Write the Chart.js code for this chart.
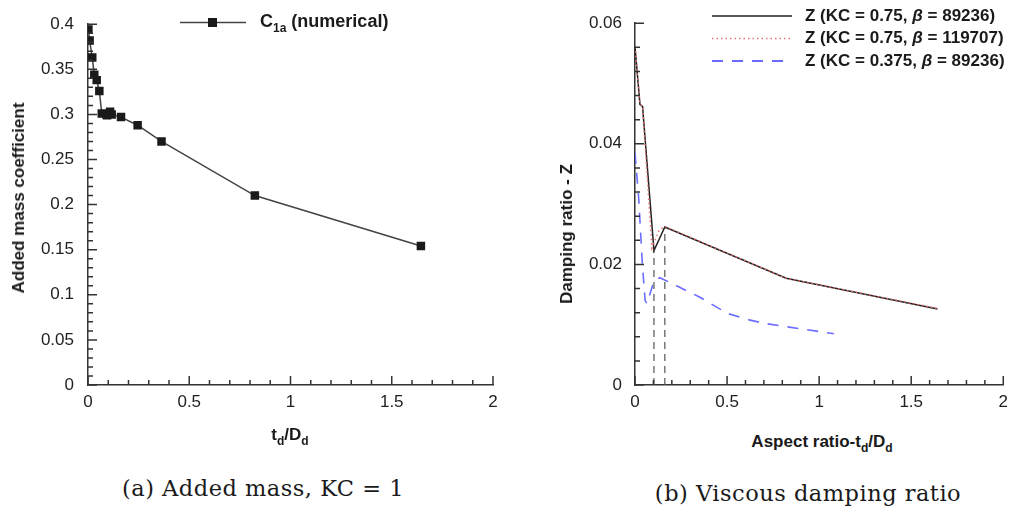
<!DOCTYPE html>
<html>
<head>
<meta charset="utf-8">
<script src="https://cdn.jsdelivr.net/npm/chart.js"></script>
<style>
  body { margin: 0; background: #fff; }
  #page { position: relative; width: 1015px; height: 511px; overflow: hidden; font-family: "Liberation Sans", Arial, sans-serif; color: #1a1a1a; }
  canvas { position: absolute; top: 0; }
  .ytitle { position: absolute; font-weight: bold; font-size: 17px; white-space: nowrap; transform: translate(-50%, -50%) rotate(-90deg); }
  .xtitle { position: absolute; font-weight: bold; font-size: 17px; white-space: nowrap; transform: translate(-50%, -50%); }
  .xtitle sub, .leg sub { font-size: 12px; vertical-align: -5px; }
  .caption { position: absolute; font-family: "DejaVu Serif", "Liberation Serif", serif; font-size: 22.5px; letter-spacing: 0.5px; white-space: nowrap; transform: translate(-50%, -50%); }
  .leg { position: absolute; font-weight: bold; font-size: 17px; white-space: nowrap; line-height: 20px; }
  svg.sample { position: absolute; overflow: visible; }
</style>
</head>
<body>
<div id="page">
  <canvas id="massChart" width="520" height="430" style="left:0"></canvas>
  <canvas id="dampChart" width="475" height="430" style="left:540px"></canvas>

  <div class="ytitle" style="left:19px; top:198px">Added mass coefficient</div>
  <div class="xtitle" style="left:290px; top:436px">t<sub>d</sub>/D<sub>d</sub></div>
  <div class="ytitle" style="left:567px; top:234px">Damping ratio - Z</div>
  <div class="xtitle" style="left:822px; top:443px">Aspect ratio-t<sub>d</sub>/D<sub>d</sub></div>

  <!-- legend, left panel -->
  <svg class="sample" style="left:180px; top:12px" width="66" height="20">
    <line x1="0" y1="10.5" x2="66" y2="10.5" stroke="#444" stroke-width="1.5"/>
    <rect x="28" y="6" width="9" height="9" fill="#1a1a1a"/>
  </svg>
  <div class="leg" style="left:260px; top:11px; font-size:18px">C<sub>1a</sub> (numerical)</div>

  <!-- legend, right panel -->
  <svg class="sample" style="left:712px; top:6px" width="80" height="60">
    <line x1="0" y1="10" x2="80" y2="10" stroke="#222" stroke-width="1.5"/>
    <line x1="0" y1="32.5" x2="80" y2="32.5" stroke="#f07070" stroke-width="1.5" stroke-dasharray="1.5,3"/>
    <line x1="0" y1="55" x2="80" y2="55" stroke="#6b6bff" stroke-width="1.8" stroke-dasharray="11,9"/>
  </svg>
  <div class="leg" style="left:805px; top:6px">Z (KC = 0.75, <i>&beta;</i> = 89236)</div>
  <div class="leg" style="left:805px; top:28px">Z (KC = 0.75, <i>&beta;</i> = 119707)</div>
  <div class="leg" style="left:805px; top:51px">Z (KC = 0.375, <i>&beta;</i> = 89236)</div>

  <div class="caption" style="left:263px; top:488px">(a) Added mass, KC = 1</div>
  <div class="caption" style="left:808px; top:493px">(b) Viscous damping ratio</div>
</div>

<script>
// added mass coefficient C1a against td/Dd (KC = 1)
const massX = [0.002, 0.008, 0.021, 0.031, 0.043, 0.056, 0.068, 0.092, 0.094, 0.109, 0.117, 0.163, 0.245, 0.363, 0.824, 1.644];
const massY = [0.394, 0.382, 0.363, 0.344, 0.338, 0.326, 0.301, 0.300, 0.299, 0.303, 0.300, 0.297, 0.288, 0.270, 0.210, 0.154];

// damping ratio Z against aspect ratio
const zKc075X = [0, 0.027, 0.041, 0.103, 0.162, 0.821, 1.643];
const zKc075Y = [0.0561, 0.0465, 0.0462, 0.0223, 0.0262, 0.0177, 0.0126];

const zKc075bX = [0, 0.027, 0.041, 0.092, 0.13, 0.162, 0.821, 1.643];
const zKc075bY = [0.0561, 0.0466, 0.0462, 0.0227, 0.0256, 0.0263, 0.0177, 0.0127];

const zKc0375X = [0, 0.02, 0.04, 0.055, 0.065, 0.103, 0.135, 0.35, 0.455, 0.51, 0.62, 0.705, 1.08];
const zKc0375Y = [0.0385, 0.031, 0.020, 0.0140, 0.0135, 0.0172, 0.0178, 0.0146, 0.0127, 0.0118, 0.0108, 0.0102, 0.0085];

// aspect ratios marked with vertical dashed lines (minimum and peak of KC = 0.75)
const markX = [0.103, 0.162];
const markTop = [0.0223, 0.0262];

const toPoints = (xs, ys) => xs.map((x, i) => ({ x: x, y: ys[i] }));

const FONT = '"Liberation Sans", Arial, sans-serif';

// small tick marks pointing into the plot, long ones every 5th
function inwardTicks(xMinor, yMinor) {
  return {
    id: 'inwardTicks',
    afterDraw(chart) {
      const ctx = chart.ctx;
      const area = chart.chartArea;
      const xs = chart.scales.x;
      const ys = chart.scales.y;
      const nx = Math.round((xs.max - xs.min) / xMinor);
      const ny = Math.round((ys.max - ys.min) / yMinor);
      ctx.save();
      ctx.strokeStyle = '#333';
      ctx.lineWidth = 1.5;
      ctx.setLineDash([]);
      ctx.beginPath();
      for (let i = 0; i <= nx; i++) {
        const p = xs.getPixelForValue(xs.min + i * xMinor);
        const len = i % 5 === 0 ? 9 : 5;
        ctx.moveTo(p, area.bottom);
        ctx.lineTo(p, area.bottom - len);
      }
      for (let i = 0; i <= ny; i++) {
        const p = ys.getPixelForValue(ys.min + i * yMinor);
        const len = i % 5 === 0 ? 9 : 5;
        ctx.moveTo(area.left, p);
        ctx.lineTo(area.left + len, p);
      }
      ctx.stroke();
      ctx.restore();
    }
  };
}

const plainNumber = v => String(Number(v.toFixed(4)));

function axes(yMax, yStep, yWidth, yPad) {
  return {
    x: {
      type: 'linear', min: 0, max: 2,
      grid: { display: false, drawTicks: false },
      border: { display: true, color: '#333', width: 1.5 },
      ticks: { stepSize: 0.5, color: '#222', padding: 7, font: { family: FONT, size: 17 }, callback: plainNumber },
      afterFit: s => { s.height = 45; }
    },
    y: {
      type: 'linear', min: 0, max: yMax,
      grid: { display: false, drawTicks: false },
      border: { display: true, color: '#333', width: 1.5 },
      ticks: { stepSize: yStep, color: '#222', padding: yPad, font: { family: FONT, size: 17 }, callback: plainNumber },
      afterFit: s => { s.width = yWidth; }
    }
  };
}

new Chart(document.getElementById('massChart'), {
  type: 'scatter',
  data: {
    datasets: [{
      label: 'C1a (numerical)',
      data: toPoints(massX, massY),
      showLine: true,
      borderColor: '#444',
      borderWidth: 1.5,
      pointStyle: 'rect',
      pointRadius: 6,
      pointBackgroundColor: '#1a1a1a',
      pointBorderColor: '#1a1a1a',
      pointBorderWidth: 0
    }]
  },
  options: {
    responsive: false,
    animation: false,
    layout: { padding: { top: 21, right: 27, left: 0, bottom: 0 } },
    scales: axes(0.4, 0.05, 88, 14),
    plugins: { legend: { display: false }, tooltip: { enabled: false } }
  },
  plugins: [inwardTicks(0.1, 0.01)]
});

const lineSet = (label, pts, color, width, dash, order) => ({
  label: label,
  data: pts,
  showLine: true,
  borderColor: color,
  borderWidth: width,
  borderDash: dash,
  pointRadius: 0,
  order: order
});

const markerSets = markX.map((x, i) => ({
  label: 'mark' + i,
  data: [{ x: x, y: 0 }, { x: x, y: markTop[i] }],
  showLine: true,
  borderColor: '#555',
  borderWidth: 1.2,
  borderDash: [7, 5],
  pointRadius: 0,
  order: 4
}));

new Chart(document.getElementById('dampChart'), {
  type: 'scatter',
  data: {
    datasets: [
      lineSet('Z (KC = 0.75, β = 89236)', toPoints(zKc075X, zKc075Y), '#222', 1.5, [], 2),
      lineSet('Z (KC = 0.75, β = 119707)', toPoints(zKc075bX, zKc075bY), '#f07070', 1.5, [1.5, 3], 1),
      lineSet('Z (KC = 0.375, β = 89236)', toPoints(zKc0375X, zKc0375Y), '#6b6bff', 1.6, [11, 9], 3),
      ...markerSets
    ]
  },
  options: {
    responsive: false,
    animation: false,
    layout: { padding: { top: 11, right: 8, left: 0, bottom: 0 } },
    scales: axes(0.06, 0.02, 95, 13),
    plugins: { legend: { display: false }, tooltip: { enabled: false } }
  },
  plugins: [inwardTicks(0.1, 0.004)]
});
</script>
</body>
</html>
